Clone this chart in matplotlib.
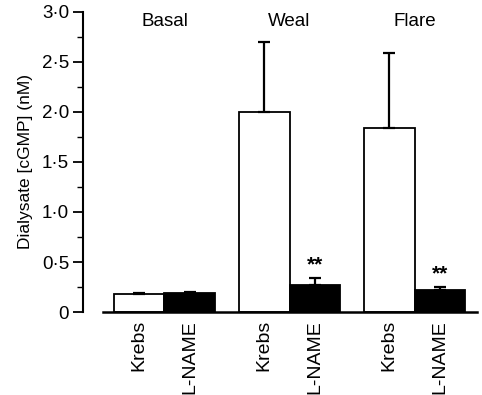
import numpy as np
import matplotlib.pyplot as plt

plt.rcParams['font.family'] = ['Liberation Sans', 'DejaVu Sans']

groups = ["Basal", "Weal", "Flare"]
bar_labels = ["Krebs", "L-NAME"]
krebs = [0.18, 2.00, 1.84]
krebs_err = [0.01, 0.70, 0.75]
lname = [0.19, 0.27, 0.22]
lname_err = [0.01, 0.07, 0.03]
stars = ["", "**", "**"]
yticks = [0, 0.5, 1.0, 1.5, 2.0, 2.5, 3.0]
ytick_labels = ["0", "0·5", "1·0", "1·5", "2·0", "2·5", "3·0"]


def main():
    fig = plt.figure(figsize=(4.82, 3.95), dpi=100)
    ax = fig.add_axes([0.172, 0.21, 0.818, 0.76])

    x = np.arange(len(groups))
    w = 0.404
    ax.bar(x - w / 2, krebs, w, color="white", edgecolor="black", linewidth=1.3,
           yerr=[np.zeros(3), krebs_err], error_kw=dict(capsize=4.5, elinewidth=1.6, capthick=1.6))
    ax.bar(x + w / 2, lname, w, color="black", edgecolor="black", linewidth=1.3,
           yerr=[np.zeros(3), lname_err], error_kw=dict(capsize=4.5, elinewidth=1.6, capthick=1.6))

    for i, g in enumerate(groups):
        ax.text(x[i], 2.9, g, ha="center", va="center", fontsize=13.5)
        if stars[i]:
            ax.text(x[i] + w / 2, lname[i] + lname_err[i] + 0.04, stars[i],
                    ha="center", va="bottom", fontsize=15, fontweight="bold")
        for j, lab in enumerate(bar_labels):
            ax.text(x[i] + (j - 0.5) * w, -0.08, lab, rotation=90, ha="center",
                    va="top", fontsize=14)

    ax.set_xlim(-0.652, 2.5)
    ax.set_ylim(0, 3.0)
    ax.set_xticks([])
    ax.set_yticks(yticks)
    ax.set_yticklabels(ytick_labels, fontsize=13.5)
    ax.set_yticks(np.arange(0.25, 3.0, 0.5), minor=True)
    ax.tick_params(axis="y", which="major", direction="out", length=7, width=1.3, pad=3)
    ax.tick_params(axis="y", which="minor", direction="out", length=4, width=1.0)
    ax.set_ylabel("Dialysate [cGMP] (nM)", fontsize=12.5, labelpad=6)

    for s in ["top", "right"]:
        ax.spines[s].set_visible(False)
    ax.spines["left"].set_linewidth(1.5)
    ax.spines["left"].set_bounds(0, 3.0)
    ax.spines["bottom"].set_linewidth(1.8)
    ax.spines["bottom"].set_bounds(-0.49, 2.5)

    fig.savefig("out.png", dpi=100)


if __name__ == "__main__":
    main()
